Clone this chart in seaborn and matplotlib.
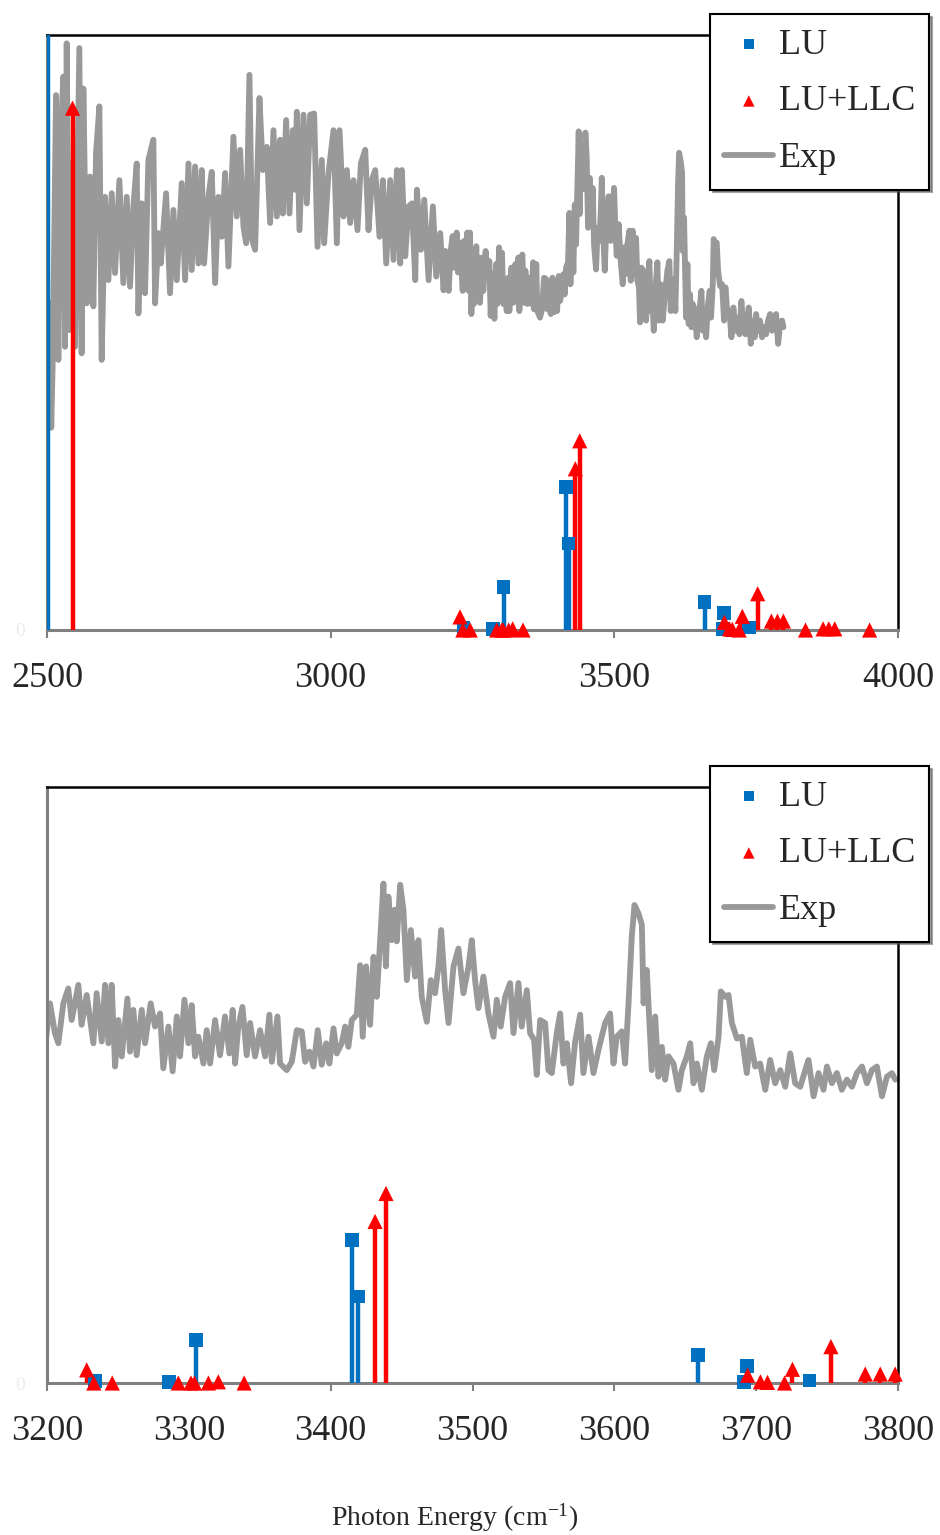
import matplotlib
matplotlib.use("Agg")
import matplotlib.pyplot as plt
import seaborn as sns
import numpy as np

sns.set_style("white")
plt.rcParams["font.family"] = ["Liberation Serif", "DejaVu Serif"]
plt.rcParams["mathtext.fontset"] = "custom"
plt.rcParams["mathtext.rm"] = "Liberation Serif"
plt.rcParams["mathtext.it"] = "Liberation Serif:italic"

BLUE = "#0070C0"
RED = "#FF0000"
GRAY = "#999999"

# experimental spectrum (photon energy in cm-1, relative intensity)
exp_wn = [
    2505, 2507.5, 2510.0, 2515.9, 2520.0, 2524.1, 2528.8, 2531.7, 2534.7, 2539.4,
    2543.5, 2549.4, 2557.0, 2561.1, 2564.1, 2570.0, 2575.8, 2581.7, 2586.4, 2592.3,
    2596.4, 2602.3, 2608.2, 2614.1, 2619.9, 2627.6, 2634.6, 2640.5, 2646.4, 2652.3,
    2658.1, 2661.1, 2667.0, 2672.8, 2678.7, 2687.5, 2690.5, 2696.4, 2700.5, 2709.9,
    2716.9, 2722.8, 2728.7, 2737.5, 2743.4, 2749.3, 2755.1, 2761.0, 2766.9, 2772.8,
    2776.9, 2784.5, 2790.4, 2796.3, 2802.2, 2808.1, 2814.0, 2819.8, 2828.6, 2834.5,
    2840.4, 2846.3, 2851.0, 2856.8, 2861.5, 2866.8, 2874.5, 2880.4, 2887.4, 2893.3,
    2899.2, 2905.1, 2911.0, 2915.6, 2921.5, 2927.4, 2933.3, 2937.4, 2940.3, 2945.0,
    2952.1, 2958.0, 2963.9, 2970.9, 2976.8, 2984.4, 2988.5, 2996.2, 3005.0, 3010.9,
    3015.6, 3022.6, 3028.5, 3034.4, 3040.3, 3047.3, 3053.2, 3060.9, 3066.7, 3072.6,
    3078.5, 3086.1, 3092.0, 3097.9, 3104.9, 3110.8, 3116.7, 3122.6, 3125.5, 3131.4,
    3137.3, 3143.2, 3149.1, 3152.0, 3159.1, 3165.0, 3172.6, 3180.2, 3186.1, 3193.1,
    3199.0, 3202.1, 3205.6, 3208.0, 3211.5, 3215.0, 3217.4, 3222.1, 3224.4, 3228.0,
    3232.7, 3235.0, 3238.6, 3240.9, 3243.3, 3245.6, 3248.0, 3250.3, 3252.7, 3256.7,
    3258.5, 3260.9, 3263.2, 3266.8, 3269.1, 3273.1, 3276.2, 3279.7, 3282.0, 3285.6,
    3288.6, 3291.5, 3293.8, 3296.9, 3299.7, 3302.0, 3304.4, 3306.7, 3310.3, 3312.6,
    3315.0, 3318.5, 3322.0, 3325.5, 3328.6, 3330.9, 3332.6, 3334.9, 3337.8, 3340.8,
    3343.2, 3346.7, 3350.2, 3353.8, 3356.8, 3358.5, 3362.5, 3364.3, 3369.0, 3372.6,
    3376.1, 3379.6, 3382.0, 3385.0, 3387.9, 3390.9, 3393.7, 3396.8, 3399.1, 3402.0,
    3404.3, 3407.8, 3410.2, 3412.5, 3414.9, 3418.4, 3420.8, 3422.6, 3425.0, 3427.8,
    3430.2, 3432.5, 3434.9, 3437.2, 3438.9, 3440.7, 3443.1, 3445.0, 3446.6, 3449.0,
    3451.3, 3453.7, 3456.5, 3459.5, 3461.9, 3464.2, 3467.8, 3470.6, 3473.6, 3476.0,
    3477.9, 3480.7, 3483.1, 3486.6, 3490.1, 3493.6, 3497.2, 3499.5, 3501.8, 3504.2,
    3507.7, 3511.2, 3514.8, 3517.1, 3519.9, 3523.0, 3526.5, 3528.9, 3532.4, 3534.7,
    3538.3, 3540.6, 3543.4, 3545.3, 3547.7, 3551.2, 3553.5, 3555.9, 3559.4, 3561.8,
    3564.1, 3566.5, 3569.5, 3572.4, 3575.9, 3578.2, 3581.8, 3585.3, 3588.8, 3593.5,
    3597.0, 3599.4, 3601.7, 3605.3, 3607.6, 3610.0, 3612.3, 3614.2, 3617.0, 3619.4,
    3620.6, 3622.9, 3626.4, 3628.8, 3631.1, 3633.5, 3635.8, 3638.2, 3641.7, 3645.2,
    3647.6, 3651.1, 3653.5, 3655.8, 3658.2, 3661.7, 3665.2, 3668.1, 3670.4, 3673.5,
    3675.1, 3678.2, 3680.5, 3682.9, 3686.4, 3689.9, 3693.4, 3695.8, 3699.3, 3702.8,
    3706.4, 3709.9, 3713.4, 3717.0, 3720.5, 3724.0, 3727.5, 3731.1, 3734.6, 3736.9,
    3740.5, 3744.0, 3747.5, 3749.9, 3753.4, 3756.9, 3760.4, 3764.0, 3767.5, 3771.0,
    3774.6, 3778.1, 3781.6, 3785.1, 3788.7, 3792.2, 3795.7, 3798.1,
]
exp_int = [
    0.55, 0.34, 0.448, 0.899, 0.454, 0.829, 0.930, 0.476, 0.986, 0.504,
    0.784, 0.476, 0.978, 0.465, 0.910, 0.549, 0.762, 0.544, 0.801, 0.880,
    0.454, 0.728, 0.588, 0.734, 0.600, 0.756, 0.583, 0.728, 0.577, 0.712,
    0.784, 0.532, 0.717, 0.566, 0.790, 0.824, 0.549, 0.667, 0.616, 0.734,
    0.566, 0.706, 0.588, 0.751, 0.588, 0.784, 0.605, 0.779, 0.616, 0.773,
    0.616, 0.728, 0.770, 0.583, 0.728, 0.661, 0.768, 0.611, 0.829, 0.695,
    0.807, 0.678, 0.650, 0.933, 0.656, 0.639, 0.894, 0.773, 0.812, 0.684,
    0.840, 0.695, 0.824, 0.700, 0.857, 0.700, 0.840, 0.740, 0.871, 0.672,
    0.866, 0.717, 0.866, 0.868, 0.644, 0.790, 0.650, 0.768, 0.840, 0.650,
    0.840, 0.695, 0.773, 0.684, 0.756, 0.672, 0.784, 0.807, 0.672, 0.756,
    0.773, 0.661, 0.756, 0.616, 0.756, 0.622, 0.773, 0.616, 0.773, 0.628,
    0.712, 0.717, 0.588, 0.740, 0.639, 0.723, 0.588, 0.712, 0.594, 0.667,
    0.571, 0.637, 0.587, 0.570, 0.637, 0.662, 0.609, 0.668, 0.601, 0.651,
    0.570, 0.654, 0.573, 0.668, 0.570, 0.668, 0.531, 0.609, 0.548, 0.645,
    0.556, 0.626, 0.550, 0.626, 0.570, 0.637, 0.598, 0.620, 0.528, 0.598,
    0.523, 0.615, 0.548, 0.643, 0.570, 0.634, 0.548, 0.581, 0.536, 0.592,
    0.536, 0.609, 0.550, 0.615, 0.553, 0.626, 0.536, 0.598, 0.631, 0.550,
    0.604, 0.548, 0.592, 0.548, 0.618, 0.539, 0.615, 0.536, 0.525, 0.539,
    0.592, 0.590, 0.539, 0.556, 0.531, 0.592, 0.534, 0.570, 0.536, 0.595,
    0.553, 0.570, 0.598, 0.564, 0.609, 0.618, 0.701, 0.581, 0.699, 0.601,
    0.715, 0.648, 0.743, 0.838, 0.699, 0.816, 0.743, 0.794, 0.741, 0.836,
    0.794, 0.676, 0.760, 0.682, 0.743, 0.648, 0.606, 0.676, 0.654, 0.699,
    0.760, 0.659, 0.604, 0.699, 0.729, 0.654, 0.699, 0.743, 0.676, 0.629,
    0.682, 0.620, 0.581, 0.643, 0.598, 0.648, 0.671, 0.587, 0.671, 0.598,
    0.659, 0.587, 0.576, 0.517, 0.609, 0.604, 0.525, 0.520, 0.587, 0.620,
    0.536, 0.570, 0.503, 0.573, 0.618, 0.520, 0.581, 0.520, 0.559, 0.604,
    0.620, 0.536, 0.581, 0.590, 0.536, 0.637, 0.749, 0.802, 0.788, 0.769,
    0.637, 0.693, 0.525, 0.615, 0.514, 0.564, 0.509, 0.548, 0.536, 0.492,
    0.525, 0.548, 0.570, 0.503, 0.536, 0.492, 0.548, 0.570, 0.525, 0.581,
    0.657, 0.648, 0.651, 0.604, 0.578, 0.581, 0.520, 0.576, 0.531, 0.536,
    0.492, 0.542, 0.503, 0.525, 0.497, 0.553, 0.503, 0.497, 0.525, 0.542,
    0.481, 0.520, 0.492, 0.531, 0.503, 0.520, 0.492, 0.509, 0.497, 0.520,
    0.531, 0.503, 0.525, 0.531, 0.481, 0.514, 0.520, 0.509,
]

# calculated lines: LU
lu_wn = [2502, 3234, 3286, 3305, 3415, 3419.5, 3659, 3691.5, 3693.4, 3737.6]
lu_int = [1.5, 0.003, 0.002, 0.072, 0.240, 0.145, 0.047, 0.002, 0.0285, 0.004]

# calculated lines: LU+LLC
llc_wn = [2545, 3228, 3233, 3246, 3292.6, 3301.5, 3304, 3313.8, 3320.8, 3339,
          3431.3, 3439, 3694, 3703, 3708, 3720, 3725.6, 3752.7, 3776.9, 3787.5,
          3798, 3837, 3868, 3878, 3888.5, 3950]
llc_int = [0.877, 0.022, 0.0, 0.0, 0.0, 0.0, 0.0, 0.0, 0.002, 0.0,
           0.271, 0.318, 0.013, 0.002, 0.001, 0.0, 0.023, 0.061, 0.015, 0.015,
           0.015, 0.0, 0.002, 0.002, 0.002, 0.0]

panels = [
    {"xlim": (2500, 4000), "ticks": [2500, 3000, 3500, 4000]},
    {"xlim": (3200, 3800), "ticks": [3200, 3300, 3400, 3500, 3600, 3700, 3800]},
]
YMAX = 1.0

W, H = 940, 1535
fig = plt.figure(figsize=(W / 100, H / 100), dpi=100)
axes = [
    fig.add_axes([47 / W, 1 - 630 / H, 851 / W, 595 / H]),
    fig.add_axes([47 / W, 1 - 1383 / H, 851 / W, 596 / H]),
]
legend_tops = [14, 766]


def draw_panel(ax, cfg, legend_top):
    x0, x1 = cfg["xlim"]
    sns.lineplot(x=exp_wn, y=exp_int, ax=ax, color=GRAY, lw=4.2,
                 estimator=None, sort=False, label="Exp", zorder=2)

    lu_w = np.array(lu_wn)
    lu_h = np.array(lu_int)
    ll_w = np.array(llc_wn)
    ll_h = np.array(llc_int)

    ax.vlines(lu_w, 0, lu_h, color=BLUE, lw=3.2, zorder=3)
    ax.vlines(ll_w, 0, ll_h, color=RED, lw=3.2, zorder=3)

    m = (lu_h <= YMAX) & (lu_w >= x0) & (lu_w <= x1)
    sns.scatterplot(x=lu_w[m], y=lu_h[m], ax=ax, marker="s", s=95, color=BLUE,
                    edgecolor="none", linewidth=0, label="LU", zorder=4, clip_on=False)
    m = (ll_h <= YMAX) & (ll_w >= x0) & (ll_w <= x1)
    sns.scatterplot(x=ll_w[m], y=ll_h[m], ax=ax, marker="^", s=120, color=RED,
                    edgecolor="none", linewidth=0, label="LU+LLC", zorder=4, clip_on=False)

    ax.set_xlim(x0, x1)
    ax.set_ylim(0, YMAX)
    ax.set_xticks(cfg["ticks"])
    ax.set_xticklabels([str(t) for t in cfg["ticks"]])
    ax.set_yticks([0])
    ax.set_yticklabels(["0"])
    ax.tick_params(axis="x", direction="out", length=6, width=1.5, color="#808080",
                   labelsize=26, pad=17, bottom=True)
    ax.tick_params(axis="y", length=0, labelsize=14, labelcolor="#ececec", pad=16)
    ax.set_xlabel("")
    ax.set_ylabel("")

    for side in ["top", "right"]:
        ax.spines[side].set_color("black")
        ax.spines[side].set_linewidth(1.8)
    for side in ["left", "bottom"]:
        ax.spines[side].set_color("#808080")
        ax.spines[side].set_linewidth(2.2)

    handles, labels = ax.get_legend_handles_labels()
    order = [labels.index(n) for n in ["LU", "LU+LLC", "Exp"]]
    leg = ax.legend([handles[i] for i in order], [labels[i] for i in order],
                    loc="upper left", bbox_to_anchor=(710 / W, 1 - legend_top / H),
                    bbox_transform=fig.transFigure, borderaxespad=0,
                    frameon=True, fancybox=False, shadow=True, framealpha=1,
                    edgecolor="black", fontsize=26, borderpad=0.4,
                    labelspacing=0.65, handlelength=1.35, handletextpad=0.15,
                    markerscale=0.75)
    leg.get_frame().set_linewidth(1.5)
    leg.set_zorder(10)


for ax, cfg, lt in zip(axes, panels, legend_tops):
    draw_panel(ax, cfg, lt)

fig.text(455 / W, 1 - 1518 / H, "Photon Energy (cm$^{-1}$)", ha="center",
         va="center", fontsize=20)

fig.savefig("out.png", dpi=100)
